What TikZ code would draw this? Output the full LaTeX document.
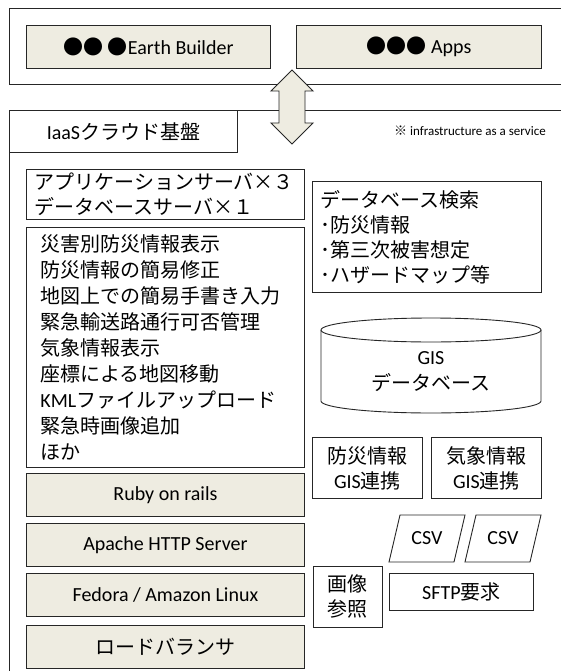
\documentclass[tikz,border=0pt]{standalone}
\usepackage{fontspec}
\setmainfont{Carlito}
\newfontfamily\jp{Noto Sans CJK JP}
\definecolor{beige}{HTML}{EEECE1}
\newcommand\J[1]{{\jp #1}}
\begin{document}
\begin{tikzpicture}[x=1pt,y=-1pt,
  every node/.style={font=\fontsize{20}{26}\selectfont},
  frame/.style={draw=black!85, line width=0.9pt},
  box/.style={frame, anchor=north west, inner sep=0pt, align=center},
  tanbox/.style={box, fill=beige},
  lbox/.style={box, align=left, inner xsep=8pt}
]
\useasboundingbox (0,0) rectangle (560,671);
\fill[white] (0,0) rectangle (560,671);
% top frame
\node[box, minimum width=570pt, minimum height=76pt] (top) at (9,8) {};
\node[tanbox, minimum width=244pt, minimum height=43pt] (eb) at (26,25) {\J{●●\ ●}Earth Builder};
\node[tanbox, minimum width=245pt, minimum height=43pt] (apps) at (296,25) {\J{●●●} Apps};
% IaaS frame
\node[box, minimum width=570pt, minimum height=600pt] (iaas) at (9,110) {};
\node[box, minimum width=228pt, minimum height=42pt] (iaaslabel) at (9,110) {IaaS\J{クラウド基盤}};
\node[anchor=east, inner sep=0pt, font=\fontsize{13}{16}\selectfont] (note) at (546,131) {\J{※} infrastructure as a service};
% double arrow
\draw[frame, fill=beige] (292,70) -- (313,91) -- (305,91) -- (305,123) -- (313,123) -- (292,144)
  -- (271,123) -- (279,123) -- (279,91) -- (271,91) -- cycle;
% left column
\node[lbox, text width=262pt, minimum height=50pt, font=\fontsize{20}{25}\selectfont] (appsrv) at (26,169)
  {\J{アプリケーションサーバ×３}\\\J{データベースサーバ×１}};
\node[box, align=left, inner xsep=14pt, text width=250pt, minimum height=240pt] (funcs) at (26,227)
  {\J{災害別防災情報表示}\\\J{防災情報の簡易修正}\\\J{地図上での簡易手書き入力}\\\J{緊急輸送路通行可否管理}\\\J{気象情報表示}\\\J{座標による地図移動}\\KML\J{ファイルアップロード}\\\J{緊急時画像追加}\\\J{ほか}};
\node[tanbox, minimum width=278pt, minimum height=43pt] (ruby) at (26,473) {Ruby on rails};
\node[tanbox, minimum width=278pt, minimum height=43pt] (apache) at (26,523) {Apache HTTP Server};
\node[tanbox, minimum width=278pt, minimum height=43pt] (fedora) at (26,573) {Fedora / Amazon Linux};
\node[tanbox, minimum width=278pt, minimum height=43pt] (lb) at (26,625) {\J{ロードバランサ}};
% right column
\node[lbox, text width=213pt, minimum height=111pt, font=\fontsize{20}{25}\selectfont] (dbsearch) at (312,181)
  {\J{データベース検索}\\\J{･防災情報}\\\J{･第三次被害想定}\\\J{･ハザードマップ等}};
% cylinder
\draw[frame, fill=white] (321,330) -- (321,401) arc[start angle=180, end angle=360, x radius=110pt, y radius=12pt] -- (541,330);
\draw[frame] (431,330) ellipse[x radius=110pt, y radius=12pt];
\node[align=center] (gisdb) at (431,372) {GIS\\\J{データベース}};
\node[box, minimum width=110pt, minimum height=61pt, font=\fontsize{20}{25}\selectfont] (bousai) at (312,437) {\J{防災情報}\\GIS\J{連携}};
\node[box, minimum width=110pt, minimum height=61pt, font=\fontsize{20}{25}\selectfont] (kishou) at (431,437) {\J{気象情報}\\GIS\J{連携}};
% CSV
\draw[frame] (389,562) -- (400,515) -- (465,515) -- (454,562) -- cycle;
\node (csv1) at (427,538.5) {CSV};
\draw[frame] (465,562) -- (476,515) -- (541,515) -- (530,562) -- cycle;
\node (csv2) at (503,538.5) {CSV};
\node[box, minimum width=69pt, minimum height=61pt, font=\fontsize{20}{25}\selectfont] (gazou) at (313,566) {\J{画像}\\\J{参照}};
\node[box, minimum width=144pt, minimum height=37pt] (sftp) at (389,573) {SFTP\J{要求}};
\end{tikzpicture}
\end{document}
